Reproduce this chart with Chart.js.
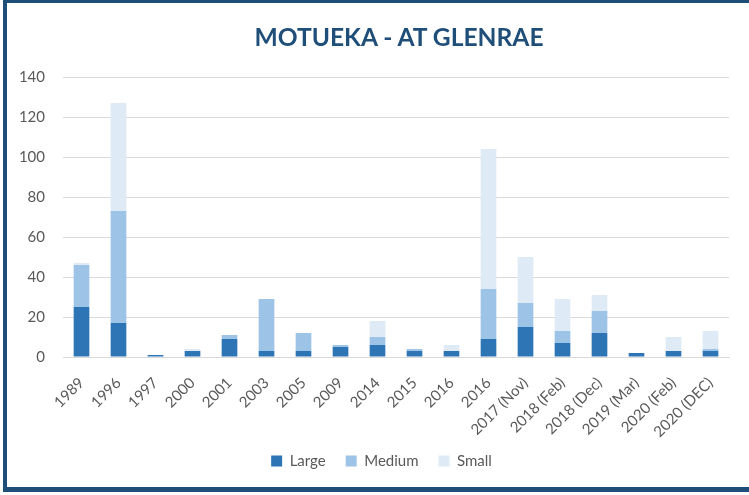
<!DOCTYPE html>
<html>
<head>
<meta charset="utf-8">
<script src="https://cdn.jsdelivr.net/npm/chart.js@4"></script>
<style>
  html, body { margin: 0; padding: 0; background: #fff; }
  #wrap { position: relative; width: 749px; height: 495px; overflow: hidden; }
  #frame {
    position: absolute; left: 3px; top: 0; width: 800px; height: 492px;
    box-sizing: border-box;
    border-top: 3px solid #1F4E79; border-left: 4px solid #1F4E79; border-bottom: 5px solid #1F4E79;
    pointer-events: none;
  }
  #title {
    position: absolute; left: 0; width: 798px; top: 22px; text-align: center;
    font: bold 24.6px Lato, sans-serif; color: #1F4E79; line-height: 30px;
  }
</style>
</head>
<body>
<div id="wrap">
  <canvas id="myChart" width="749" height="495"></canvas>
  <div id="title">MOTUEKA - AT GLENRAE</div>
  <div id="frame"></div>
</div>
<script>
const labels = ['1989', '1996', '1997', '2000', '2001', '2003', '2005', '2009', '2014', '2015',
  '2016', '2016', '2017 (Nov)', '2018 (Feb)', '2018 (Dec)', '2019 (Mar)', '2020 (Feb)', '2020 (DEC)']
const large  = [25, 17, 1, 3, 9, 3, 3, 5, 6, 3, 3, 9, 15, 7, 12, 2, 3, 3]
const medium = [21, 56, 0, 0, 2, 26, 9, 1, 4, 1, 0, 25, 12, 6, 11, 0, 0, 1]
const small  = [1, 54, 0, 1, 0, 0, 0, 0, 8, 0, 3, 70, 23, 16, 8, 0, 7, 9]
const y_ticks = [0, 20, 40, 60, 80, 100, 120, 140]

const grey = '#595959'

// legend sits a little right of the page centre and overlaps the label band in the original
const moveLegend = {
  id: 'moveLegend',
  afterLayout(chart) {
    const lg = chart.legend
    const h = lg.bottom - lg.top
    lg.left += 12
    lg.right += 12
    lg.top = 433.5
    lg.bottom = lg.top + h
  }
}

const data = {
  labels: labels,
  datasets: [
    { label: 'Large', data: large, backgroundColor: '#2E75B6' },
    { label: 'Medium', data: medium, backgroundColor: '#9DC3E6' },
    { label: 'Small', data: small, backgroundColor: '#DEEBF7' },
  ]
}

const config = {
  type: 'bar',
  data: data,
  plugins: [moveLegend],
  options: {
    responsive: false,
    animation: false,
    layout: { padding: { top: 77, left: 10, right: 20, bottom: 3 } },
    datasets: { bar: { categoryPercentage: 1, barPercentage: 0.424 } },
    plugins: {
      tooltip: { enabled: false },
      legend: {
        position: 'bottom',
        labels: {
          color: grey, boxWidth: 11, boxHeight: 11, padding: 20,
          font: { family: 'Lato', size: 15 }
        }
      }
    },
    scales: {
      x: {
        stacked: true,
        grid: { display: false },
        border: { color: '#D9D9D9' },
        ticks: {
          color: grey, autoSkip: false, minRotation: 45, maxRotation: 45, padding: 9,
          font: { family: 'Lato', size: 15 }
        },
        afterFit: (scale) => { scale.height = 90 }
      },
      y: {
        stacked: true,
        min: 0, max: 140,
        afterBuildTicks: (scale) => { scale.ticks = y_ticks.map(v => ({ value: v })) },
        grid: { color: '#D9D9D9', drawTicks: false },
        border: { display: false },
        ticks: {
          color: grey, padding: 18,
          font: { family: 'Lato', size: 15 }
        },
        afterFit: (scale) => { scale.width = 53 }
      }
    }
  }
}

const myChart = new Chart(document.getElementById('myChart'), config)
</script>
</body>
</html>
